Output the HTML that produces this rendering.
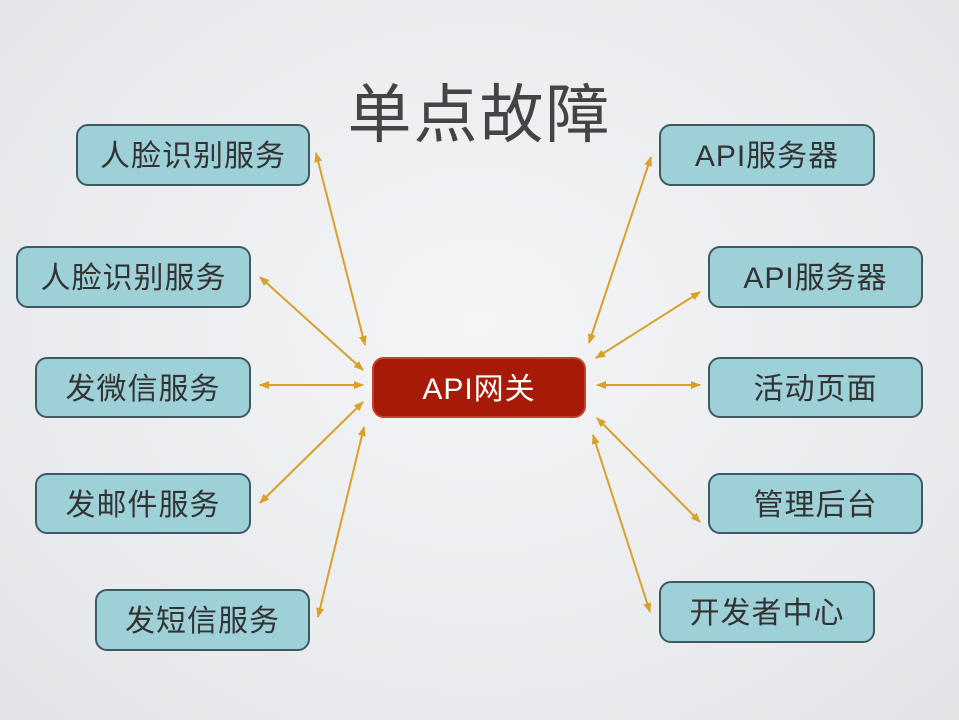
<!DOCTYPE html>
<html><head><meta charset="utf-8"><style>
body{margin:0;width:959px;height:720px;overflow:hidden;background:radial-gradient(ellipse at 50% 45%,#f4f5f7 0%,#e9eaed 70%,#e2e3e6 100%);font-family:"Liberation Sans","Noto Sans CJK SC",sans-serif;position:relative}
.b{position:absolute;box-sizing:border-box;background:#9ed0d8;border:2.5px solid #3e5962;border-radius:12px;display:flex;align-items:center;justify-content:center;font-size:30px;color:#333;letter-spacing:1px;padding-bottom:4px}
.c{background:#a81a08;border:2px solid #c6402e;color:#fff}
h1{position:absolute;margin:0;left:0;width:959px;top:64px;text-align:center;font-weight:normal;font-size:64px;color:#444;letter-spacing:2px}
svg{position:absolute;left:0;top:0}
</style></head><body>
<h1>单点故障</h1>
<div class="b" style="left:76px;top:124px;width:234px;height:62px">人脸识别服务</div>
<div class="b" style="left:16px;top:246px;width:235px;height:62px">人脸识别服务</div>
<div class="b" style="left:35px;top:357px;width:216px;height:61px">发微信服务</div>
<div class="b" style="left:35px;top:473px;width:216px;height:61px">发邮件服务</div>
<div class="b" style="left:95px;top:589px;width:215px;height:62px">发短信服务</div>
<div class="b" style="left:659px;top:124px;width:216px;height:62px">API服务器</div>
<div class="b" style="left:708px;top:246px;width:215px;height:62px">API服务器</div>
<div class="b" style="left:708px;top:357px;width:215px;height:61px">活动页面</div>
<div class="b" style="left:708px;top:473px;width:215px;height:61px">管理后台</div>
<div class="b" style="left:659px;top:581px;width:216px;height:62px">开发者中心</div>
<div class="b c" style="left:372px;top:357px;width:214px;height:61px">API网关</div>
<svg width="959" height="720"><defs><marker id="a" markerWidth="10" markerHeight="8" refX="9" refY="4" orient="auto-start-reverse" markerUnits="userSpaceOnUse"><path d="M0,0L10,4L0,8z" fill="#d9a02a"/></marker></defs>
<g stroke="#d9a02a" stroke-width="2" marker-start="url(#a)" marker-end="url(#a)">
<line x1="316" y1="153" x2="365" y2="345"/>
<line x1="260" y1="277" x2="363" y2="370"/>
<line x1="260" y1="385" x2="363" y2="385"/>
<line x1="260" y1="503" x2="363" y2="402"/>
<line x1="318" y1="617" x2="364" y2="427"/>
<line x1="651" y1="157" x2="589" y2="343"/>
<line x1="700" y1="292" x2="596" y2="358"/>
<line x1="597" y1="385" x2="700" y2="385"/>
<line x1="597" y1="418" x2="700" y2="522"/>
<line x1="593" y1="435" x2="650" y2="612"/>
</g></svg>
</body></html>
